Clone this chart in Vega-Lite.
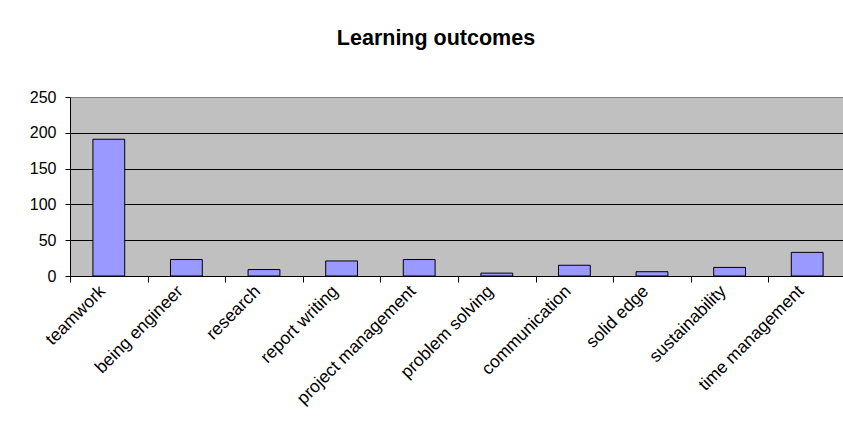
{
  "$schema": "https://vega.github.io/schema/vega-lite/v6.json",
  "autosize": {"type": "none"},
  "padding": {"left": 70, "top": 97, "right": 0, "bottom": 159},
  "width": 776,
  "height": 179,
  "background": "white",
  "title": {
    "text": "Learning outcomes",
    "font": "Liberation Sans",
    "fontSize": 21.5,
    "fontWeight": "bold",
    "color": "black",
    "frame": "group",
    "anchor": "middle",
    "baseline": "alphabetic",
    "offset": 23,
    "dx": -22
  },
  "data": {
    "values": [
      {"outcome": "teamwork", "count": 191},
      {"outcome": "being engineer", "count": 23},
      {"outcome": "research", "count": 9},
      {"outcome": "report writing", "count": 21},
      {"outcome": "project management", "count": 23},
      {"outcome": "problem solving", "count": 4},
      {"outcome": "communication", "count": 15},
      {"outcome": "solid edge", "count": 6},
      {"outcome": "sustainability", "count": 12},
      {"outcome": "time management", "count": 33}
    ]
  },
  "mark": {"type": "bar", "fill": "#9999FF", "stroke": "black", "strokeWidth": 1, "width": {"band": 0.41}},
  "encoding": {
    "x": {
      "field": "outcome",
      "type": "nominal",
      "sort": null,
      "scale": {"paddingInner": 0, "paddingOuter": 0},
      "axis": {
        "title": null,
        "labelAngle": -45,
        "labelFont": "Liberation Sans",
        "labelFontSize": 17.5,
        "labelColor": "black",
        "labelPadding": 0,
        "labelOffset": -13,
        "tickBand": "extent",
        "tickSize": 6,
        "tickColor": "black",
        "domainColor": "black",
        "grid": false
      }
    },
    "y": {
      "field": "count",
      "type": "quantitative",
      "scale": {"domain": [0, 250], "nice": false},
      "axis": {
        "title": null,
        "values": [0, 50, 100, 150, 200, 250],
        "labelFont": "Liberation Sans",
        "labelFontSize": 16,
        "labelColor": "black",
        "labelPadding": 9,
        "tickSize": 5,
        "tickColor": "black",
        "domainColor": "black",
        "grid": true,
        "gridColor": {"condition": {"test": "datum.value == 250", "value": "#808080"}, "value": "black"},
        "gridOpacity": 1
      }
    }
  },
  "config": {
    "view": {"fill": "#C0C0C0", "stroke": "#808080"}
  }
}
